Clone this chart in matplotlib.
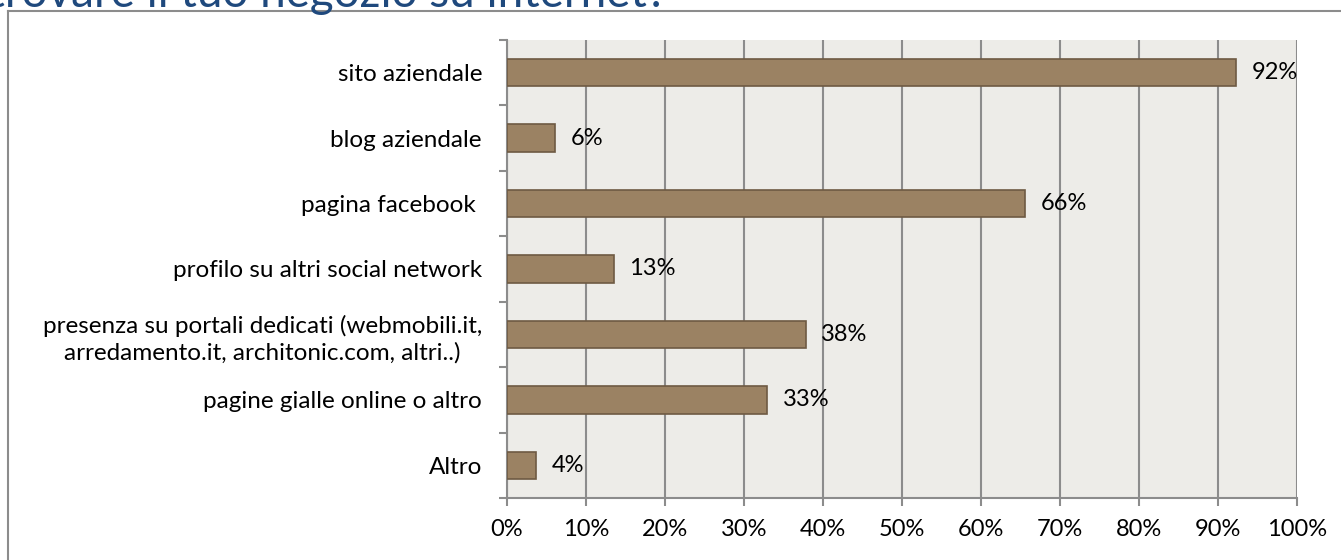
import matplotlib
matplotlib.use("Agg")
import matplotlib.pyplot as plt
from matplotlib.lines import Line2D

# dati del grafico
categorie = ["sito aziendale", "blog aziendale", "pagina facebook ",
             "profilo su altri social network",
             "presenza su portali dedicati (webmobili.it,\narredamento.it, architonic.com, altri..)",
             "pagine gialle online o altro", "Altro"]
valori = [92.3, 6.1, 65.6, 13.5, 37.8, 32.9, 3.7]
etichette = ["92%", "6%", "66%", "13%", "38%", "33%", "4%"]
xtick_vals = list(range(0, 101, 10))
xtick_labels = [f"{v}%" for v in xtick_vals]
titolo = "Dove trovare il tuo negozio su internet?"

plt.rcParams['font.family'] = ['Lato', 'DejaVu Sans']

W, H = 1341, 560
fig = plt.figure(figsize=(W / 100, H / 100), dpi=100)
fig.patch.set_facecolor("white")

# cornice esterna (solo lato sinistro e superiore visibili)
fig.add_artist(Line2D([8 / W, 8 / W], [0, 1 - 11 / H], color="#8c8c8c", lw=1.5))
fig.add_artist(Line2D([8 / W, 1], [1 - 11 / H, 1 - 11 / H], color="#8c8c8c", lw=1.5))

# titolo tagliato in alto, come nell'originale
fig.text(668 / W, 1 - 7 / H, titolo, ha="right", va="baseline",
         fontsize=33, color="#1F497D")

ax = fig.add_axes([507 / W, 1 - 498 / H, (1297 - 507) / W, (498 - 40) / H])
ax.set_facecolor("#EDECE8")

y = list(range(len(categorie)))
ax.barh(y, valori, height=0.42, color="#9B8263", edgecolor="#6E5A43", linewidth=1.2, zorder=3)

for yi, v, lab in zip(y, valori, etichette):
    ax.text(v + 2.0, yi, lab, va="center", ha="left", fontsize=17, color="black", zorder=4)

ax.set_xlim(0, 100)
ax.set_ylim(len(categorie) - 0.5, -0.5)
ax.set_xticks(xtick_vals)
ax.set_xticklabels(xtick_labels, fontsize=17)
ax.set_yticks(y)
ax.set_yticklabels(categorie, fontsize=17.5, multialignment="center", linespacing=1.3)
ax.set_yticks([i - 0.5 for i in range(len(categorie) + 1)], minor=True)
ax.tick_params(axis="y", which="major", length=0, pad=18)
ax.tick_params(axis="y", which="minor", length=6, color="#8c8c8c", width=1.5)
ax.tick_params(axis="x", length=6, color="#8c8c8c", width=1.5, pad=9)

ax.grid(axis="x", color="#8c8c8c", linewidth=1.5, zorder=1)
for s in ["top", "right"]:
    ax.spines[s].set_visible(False)
for s in ["left", "bottom"]:
    ax.spines[s].set_color("#8c8c8c")
    ax.spines[s].set_linewidth(1.5)

fig.savefig("out.png", dpi=100)
